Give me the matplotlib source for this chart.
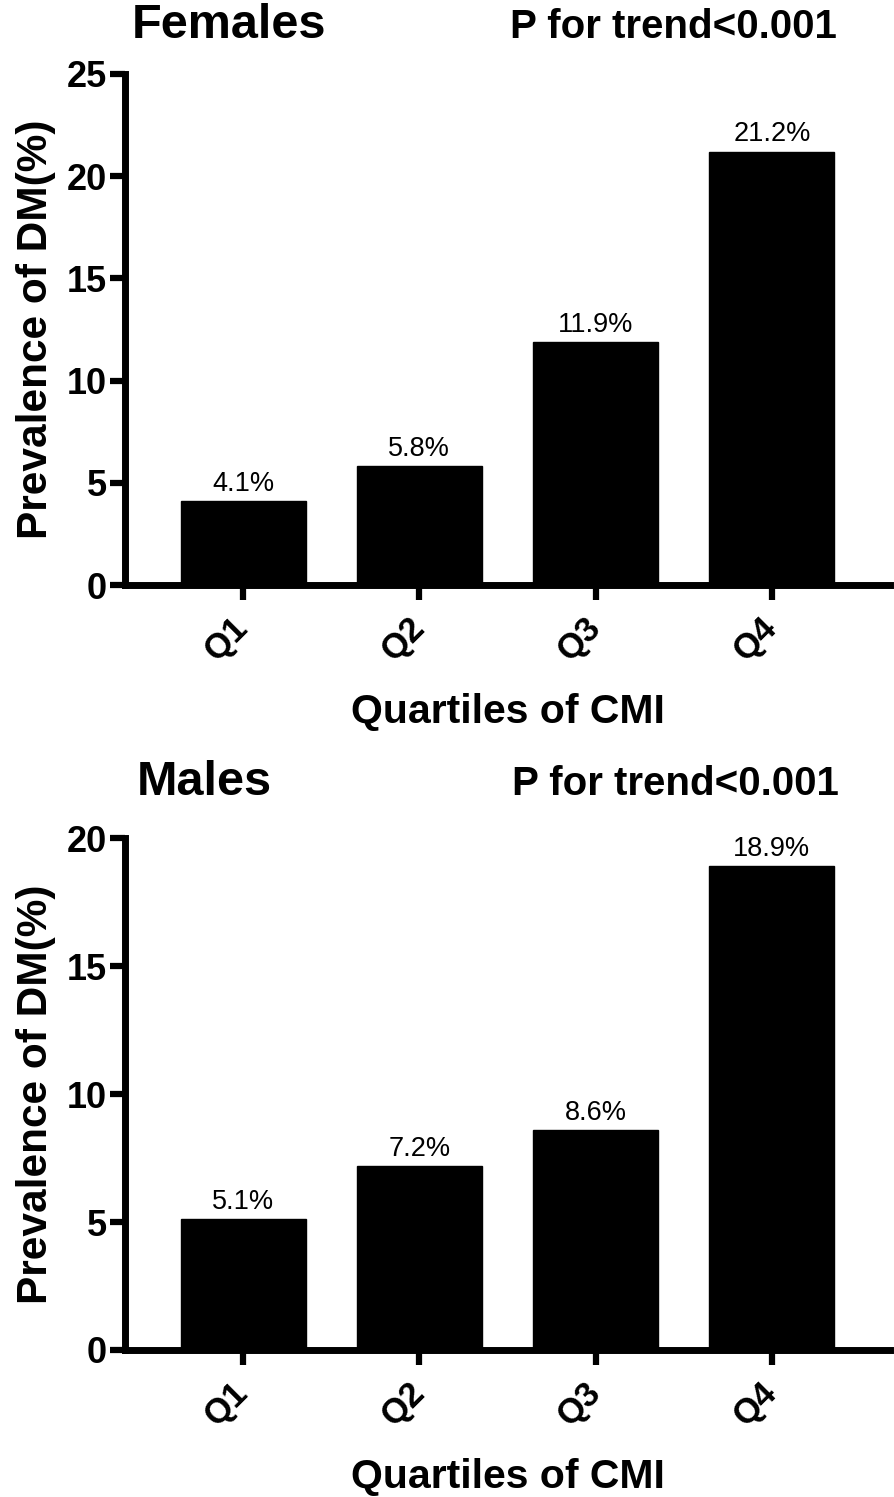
import matplotlib
matplotlib.use("Agg")
import matplotlib.pyplot as plt

plt.rcParams['font.family'] = ['Liberation Sans', 'DejaVu Sans']

quartiles = ["Q1", "Q2", "Q3", "Q4"]
females = [4.1, 5.8, 11.9, 21.2]
males = [5.1, 7.2, 8.6, 18.9]
female_ticks = [0, 5, 10, 15, 20, 25]
male_ticks = [0, 5, 10, 15, 20]
trend_text = "P for trend<0.001"

fig = plt.figure(figsize=(8.94, 14.97), dpi=100)
ax_top = fig.add_axes([0.1398, 0.6092, 0.8557, 0.3414])
ax_bot = fig.add_axes([0.1398, 0.0982, 0.8557, 0.3420])


def draw_panel(ax, values, yticks):
    x = list(range(len(values)))
    ax.bar(x, values, width=0.71, color="black", edgecolor="black")
    for xi, v in zip(x, values):
        ax.annotate("{:.1f}%".format(v), (xi, v), xytext=(0, 3),
                    textcoords="offset points", ha="center", va="bottom",
                    fontsize=19.5)
    ax.set_xlim(-0.67, len(values) - 1 + 0.67)
    ax.set_ylim(0, yticks[-1])
    ax.set_yticks(yticks)
    ax.set_xticks(x)
    ax.set_xticklabels(quartiles, rotation=45, ha="right", va="center",
                       rotation_mode="anchor", fontsize=25, fontweight="bold")
    for lab in ax.get_yticklabels():
        lab.set_fontsize(26)
        lab.set_fontweight("bold")
    for s in ["top", "right"]:
        ax.spines[s].set_visible(False)
    for s in ["left", "bottom"]:
        ax.spines[s].set_linewidth(5)
    ax.tick_params(axis="both", width=4.5, length=11, pad=2)
    ax.tick_params(axis="x", pad=16)
    ax.set_xlabel("Quartiles of CMI", fontsize=29.5, fontweight="bold", labelpad=19)
    ax.set_ylabel("Prevalence of DM(%)", fontsize=30.5, fontweight="bold", labelpad=8)


draw_panel(ax_top, females, female_ticks)
draw_panel(ax_bot, males, male_ticks)

fig.text(0.1477, 0.9746, "Females", fontsize=35, fontweight="bold", va="baseline")
fig.text(0.5705, 0.9746, trend_text, fontsize=29, fontweight="bold", va="baseline")
fig.text(0.1530, 0.4689, "Males", fontsize=35, fontweight="bold", va="baseline")
fig.text(0.5730, 0.4689, trend_text, fontsize=29, fontweight="bold", va="baseline")

fig.savefig("out.png", dpi=100)
